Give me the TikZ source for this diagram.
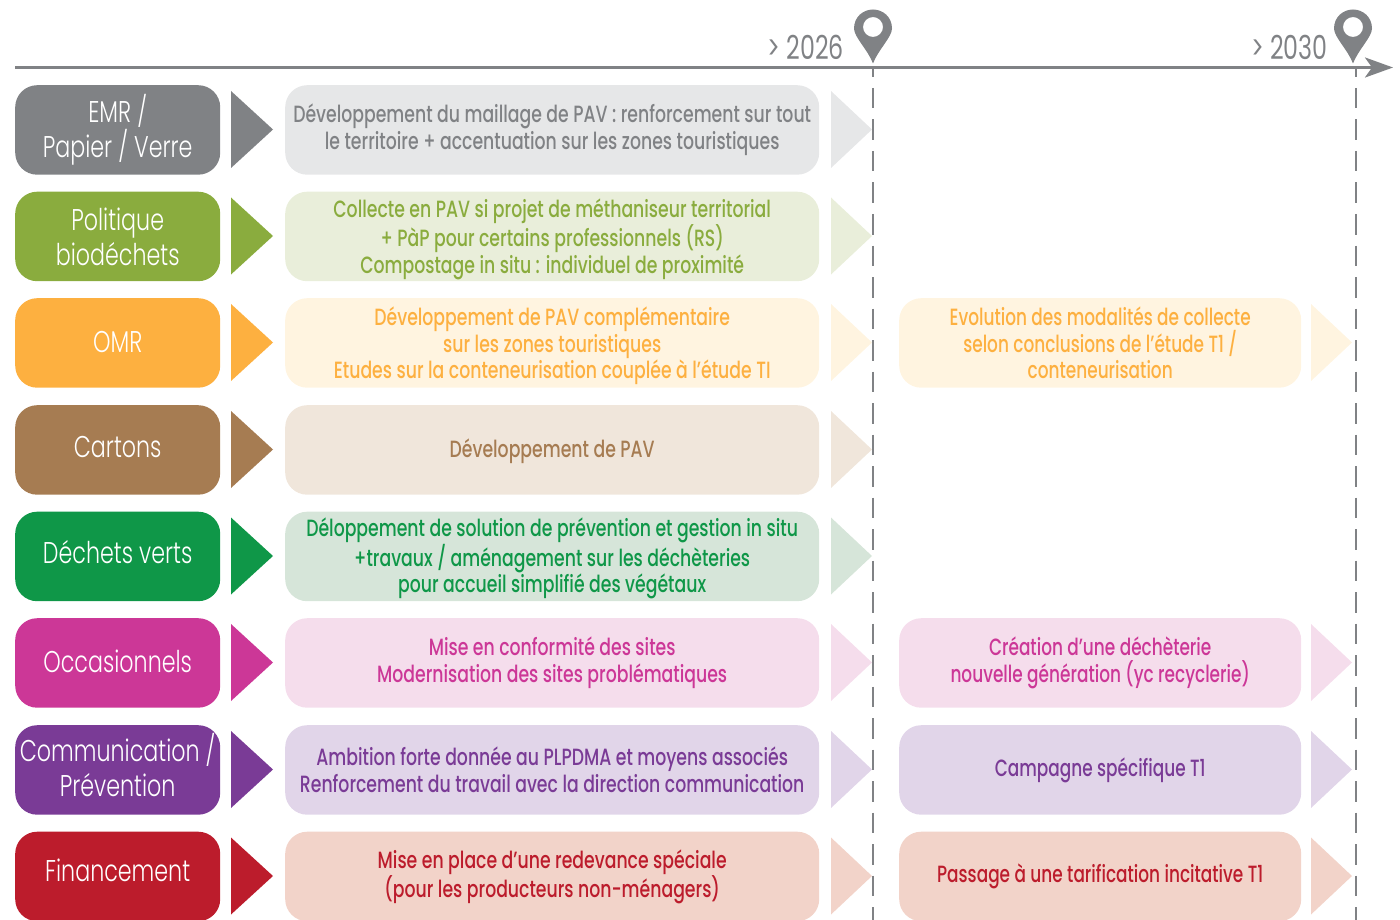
\documentclass[tikz,border=0pt]{standalone}
\usepackage{fontspec}
\setmainfont{Poppins}[FakeStretch=0.72]
\newfontfamily\lightfont{Poppins Light}[FakeStretch=0.74]
\newfontfamily\medfont{Poppins Medium}[FakeStretch=0.735]
\newfontfamily\latefont{Poppins Medium}[FakeStretch=0.72]
\definecolor{cGrey}{HTML}{808285}\definecolor{lGrey}{HTML}{E6E7E8}
\definecolor{cLime}{HTML}{8AAC3E}\definecolor{lLime}{HTML}{E9EEDA}
\definecolor{cOrange}{HTML}{FDB040}\definecolor{lOrange}{HTML}{FFF4E0}
\definecolor{cBrown}{HTML}{A67C52}\definecolor{lBrown}{HTML}{F0E6DB}
\definecolor{cGreen}{HTML}{0F9748}\definecolor{lGreen}{HTML}{D6E5D9}
\definecolor{cMag}{HTML}{CC3797}\definecolor{lMag}{HTML}{F5DDEC}
\definecolor{cPurple}{HTML}{7A3B96}\definecolor{lPurple}{HTML}{E1D5E9}
\definecolor{cRed}{HTML}{BC1C2C}\definecolor{lRed}{HTML}{F2D3C9}
\usetikzlibrary{arrows.meta}
\setlength{\normallineskiplimit}{-30pt}
\newcommand{\up}[2]{\raisebox{#1pt}[\height][\depth]{#2}}
\tikzset{
 anybox/.style={rounded corners=22pt,minimum height=89.5pt,inner sep=0pt,align=center,anchor=north west},
 catbox/.style={anybox,minimum width=205pt,text=white,font=\lightfont\fontsize{30}{35}\selectfont},
 midbox/.style={anybox,minimum width=534pt,font=\medfont\fontsize{23.5}{26.5}\selectfont},
 latebox/.style={anybox,minimum width=402pt,font=\latefont\fontsize{23.5}{26.5}\selectfont},
 yearlabel/.style={text=cGrey,anchor=base east,inner sep=0pt,font=\fontsize{33}{33}\selectfont},
 axisline/.style={draw=cGrey,line width=3pt},
 guide/.style={draw=cGrey,line width=2.5pt,dash pattern=on 20.5pt off 11pt,dash phase=11.5pt},
}
% #1 name, #2 top y, #3 strong colour, #4 light colour, #5 category, #6 middle text
\newcommand{\rowboxes}[6]{%
 \node[catbox,fill=#3] (cat#1) at (15,#2) {#5};
 \fill[#3] (231,#2+6) -- (273,#2+44.5) -- (231,#2+83) -- cycle;
 \node[midbox,fill=#4,text=#3] (mid#1) at (285,#2) {#6};
 \fill[#4] (831,#2+6) -- (872,#2+44.5) -- (831,#2+83) -- cycle;
}
% #1 name, #2 top y, #3 strong, #4 light, #5 text
\newcommand{\lateboxes}[5]{%
 \node[latebox,fill=#4,text=#3] (late#1) at (899,#2) {#5};
 \fill[#4] (1311,#2+6) -- (1352,#2+44.5) -- (1311,#2+83) -- cycle;
}
\newcommand{\pin}[1]{%
 \fill[cGrey,even odd rule] (#1,63.5) .. controls (#1-5,50) and (#1-19,37) .. (#1-19,28.5)
   .. controls (#1-19,17) and (#1-10,9.5) .. (#1,9.5)
   .. controls (#1+10,9.5) and (#1+19,17) .. (#1+19,28.5)
   .. controls (#1+19,37) and (#1+5,50) .. (#1,63.5) -- cycle
   (#1+10,27) arc[radius=10,start angle=0,end angle=360];
}
\begin{document}
\begin{tikzpicture}[x=1pt,y=-1pt]
\useasboundingbox (0,0) rectangle (1400,920);
\clip (0,0) rectangle (1400,920);
\coordinate (axisL) at (15,67.5);
\coordinate (axisR) at (1393,67.5);
\coordinate (g1a) at (873,68);\coordinate (g1b) at (873,920);
\coordinate (g2a) at (1356,68);\coordinate (g2b) at (1356,920);
\rowboxes{A}{85}{cGrey}{lGrey}{EMR /\\Papier / Verre}{Développement du maillage de PAV : renforcement sur tout\\le territoire + accentuation sur les zones touristiques}
\rowboxes{B}{191.5}{cLime}{lLime}{Politique\\biodéchets}{\up{-3}{Collecte en PAV si projet de méthaniseur territorial}\\\up{-3}{+ PàP pour certains professionnels (RS)}\\\up{-3}{Compostage in situ : individuel de proximité}}
\rowboxes{C}{298}{cOrange}{lOrange}{\up{1}{OMR}}{\up{-3}{Développement de PAV complémentaire}\\\up{-3}{sur les zones touristiques}\\\up{-3}{Etudes sur la conteneurisation couplée à l’étude TI}}
\rowboxes{D}{405}{cBrown}{lBrown}{\up{3}{Cartons}}{\up{-1}{Développement de PAV}}
\rowboxes{E}{511.5}{cGreen}{lGreen}{\up{4}{Déchets verts}}{\up{-2}{Déloppement de solution de prévention et gestion in situ}\\\up{-2}{+travaux / aménagement sur les déchèteries}\\\up{-2}{pour accueil simplifié des végétaux}}
\rowboxes{F}{618}{cMag}{lMag}{\up{2}{Occasionnels}}{Mise en conformité des sites\\Modernisation des sites problématiques}
\rowboxes{G}{725}{cPurple}{lPurple}{\up{5}{Communication /}\\\up{5}{Prévention}}{Ambition forte donnée au PLPDMA et moyens associés\\Renforcement du travail avec la direction communication}
\rowboxes{H}{831.5}{cRed}{lRed}{\up{6}{Financement}}{Mise en place d’une redevance spéciale\\(pour les producteurs non-ménagers)}
\lateboxes{C}{298}{cOrange}{lOrange}{Evolution des modalités de collecte\\selon conclusions de l’étude T1 /\\conteneurisation}
\lateboxes{F}{618}{cMag}{lMag}{Création d’une déchèterie\\nouvelle génération (yc recyclerie)}
\lateboxes{G}{725}{cPurple}{lPurple}{Campagne spécifique T1}
\lateboxes{H}{831.5}{cRed}{lRed}{Passage à une tarification incitative T1}
\draw[guide] (g1a) -- (g1b);
\draw[guide] (g2a) -- (g2b);
\draw[axisline,-{Stealth[length=28pt,width=20pt,inset=7pt]}] (axisL) -- (axisR);
\pin{873}
\pin{1353}
\node[yearlabel] (y1) at (844,59.5) {> 2026};
\node[yearlabel] (y2) at (1328,59.5) {> 2030};
\end{tikzpicture}
\end{document}
